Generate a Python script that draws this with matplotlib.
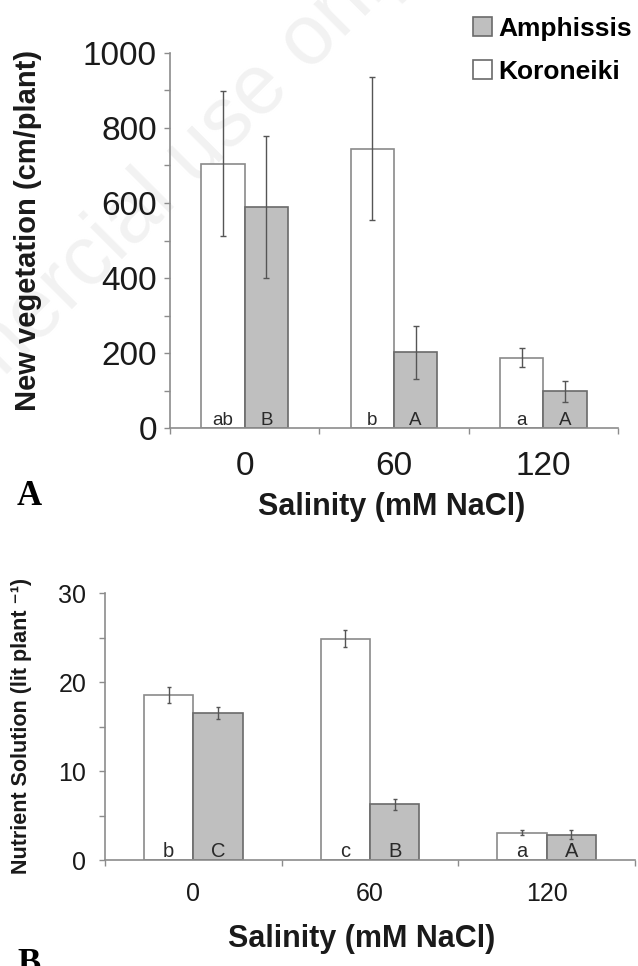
import numpy as np
import matplotlib.pyplot as plt
from matplotlib.patches import Patch

plt.rcParams['font.family'] = ['Liberation Sans', 'DejaVu Sans']

salinity = ['0', '60', '120']
cultivars = ['Koroneiki', 'Amphissis']

# panel A: new vegetation (cm/plant)
veg_koro = [704, 744, 188]
veg_koro_err = [193, 190, 25]
veg_amph = [589, 202, 98]
veg_amph_err = [188, 70, 28]
veg_koro_letters = ['ab', 'b', 'a']
veg_amph_letters = ['B', 'A', 'A']

# panel B: nutrient solution (lit plant-1)
nut_koro = [18.55, 24.9, 3.07]
nut_koro_err = [0.87, 0.93, 0.3]
nut_amph = [16.5, 6.25, 2.85]
nut_amph_err = [0.67, 0.62, 0.52]
nut_koro_letters = ['b', 'c', 'a']
nut_amph_letters = ['C', 'B', 'A']

W, H = 638, 966
GRAY_FILL = '#bfbfbf'
AXIS_C = '#8c8c8c'
TXT = '#1a1a1a'

fig = plt.figure(figsize=(W / 100, H / 100), dpi=100)


def px_rect(left, top, right, bottom):
    return [left / W, 1 - bottom / H, (right - left) / W, (bottom - top) / H]


def panel(ax, koro, koro_err, amph, amph_err, kl, al, width, ymax, ystep,
          ylabsize, letsize, cap, ypad):
    x = np.arange(len(salinity))
    ax.bar(x - width / 2, koro, width, color='white', edgecolor='#8a8a8a',
           linewidth=1.2, zorder=2)
    ax.bar(x + width / 2, amph, width, color=GRAY_FILL, edgecolor='#6a6a6a',
           linewidth=1.2, zorder=2)
    ax.errorbar(x - width / 2, koro, yerr=koro_err, fmt='none', ecolor='#555555',
                elinewidth=1, capsize=cap, capthick=1, zorder=3)
    ax.errorbar(x + width / 2, amph, yerr=amph_err, fmt='none', ecolor='#555555',
                elinewidth=1, capsize=cap, capthick=1, zorder=3)
    for i in range(len(x)):
        ax.annotate(kl[i], (x[i] - width / 2, 0), xytext=(0, 2.5),
                    textcoords='offset points', ha='center', va='baseline',
                    fontsize=letsize, color='#2a2a2a', zorder=4)
        ax.annotate(al[i], (x[i] + width / 2, 0), xytext=(0, 2.5),
                    textcoords='offset points', ha='center', va='baseline',
                    fontsize=letsize, color='#2a2a2a', zorder=4)

    ax.set_xlim(-0.5, 2.5)
    ax.set_ylim(0, ymax)
    ax.set_yticks(np.arange(0, ymax + 1e-9, ystep))
    ax.set_yticks(np.arange(ystep / 2, ymax, ystep), minor=True)
    ax.set_xticks(x)
    ax.set_xticklabels(salinity)
    ax.set_xticks([-0.5, 0.5, 1.5, 2.5], minor=True)
    ax.tick_params(axis='y', which='both', length=4.5, width=1, color=AXIS_C,
                   labelsize=ylabsize, labelcolor=TXT, pad=ypad)
    ax.tick_params(axis='x', which='major', length=0, labelsize=ylabsize,
                   labelcolor=TXT, pad=16)
    ax.tick_params(axis='x', which='minor', length=4, width=1, color=AXIS_C)
    for s in ['top', 'right']:
        ax.spines[s].set_visible(False)
    for s in ['left', 'bottom']:
        ax.spines[s].set_color(AXIS_C)
        ax.spines[s].set_linewidth(1.2)


# faint watermark across panel A, behind everything
fig.text(80 / W, 1 - 301 / H, 'Non-commercial use only', rotation=45,
         rotation_mode='anchor', fontsize=61, color='#f2f2f2',
         ha='center', va='baseline', zorder=-1)

ax1 = fig.add_axes(px_rect(170, 52.7, 618, 428.3))
panel(ax1, veg_koro, veg_koro_err, veg_amph, veg_amph_err,
      veg_koro_letters, veg_amph_letters, 0.29, 1000, 200, 24, 13.5, 2.2, 5)
ax1.patch.set_alpha(0)

ax2 = fig.add_axes(px_rect(105, 593.3, 635, 860))
panel(ax2, nut_koro, nut_koro_err, nut_amph, nut_amph_err,
      nut_koro_letters, nut_amph_letters, 0.28, 30, 10, 18, 14.5, 1.6, 9)
ax2.patch.set_alpha(0)

# axis titles
fig.text(28.5 / W, 1 - 230.5 / H, 'New vegetation (cm/plant)', rotation=90,
         fontsize=21, fontweight='bold', color=TXT, ha='center', va='center')
fig.text(391.5 / W, 1 - 507 / H, 'Salinity (mM NaCl)', fontsize=22,
         fontweight='bold', color=TXT, ha='center', va='center')
fig.text(22 / W, 1 - 726 / H, 'Nutrient Solution (lit plant \u207b\u00b9)',
         rotation=90, fontsize=15.5, fontweight='bold', color=TXT,
         ha='center', va='center')
fig.text(362 / W, 1 - 939 / H, 'Salinity (mM NaCl)', fontsize=22,
         fontweight='bold', color=TXT, ha='center', va='center')

# panel letters
fig.text(17 / W, 1 - 505 / H, 'A', family='Liberation Serif', fontsize=25,
         fontweight='bold', color='black', ha='left', va='baseline')
fig.text(17 / W, 1 - 973 / H, 'B', family='Liberation Serif', fontsize=25,
         fontweight='bold', color='black', ha='left', va='baseline')

# legend
handles = [Patch(facecolor=GRAY_FILL, edgecolor='#6a6a6a', linewidth=1.2),
           Patch(facecolor='white', edgecolor='#6a6a6a', linewidth=1.2)]
fig.legend(handles, ['Amphissis', 'Koroneiki'], loc='upper left',
           bbox_to_anchor=(473 / W, 1 - 17 / H), frameon=False,
           prop={'weight': 'bold', 'size': 19}, handlelength=0.72,
           handleheight=0.72, handletextpad=0.25, labelspacing=0.72,
           borderpad=0, borderaxespad=0)

fig.savefig('out.png', dpi=100)
